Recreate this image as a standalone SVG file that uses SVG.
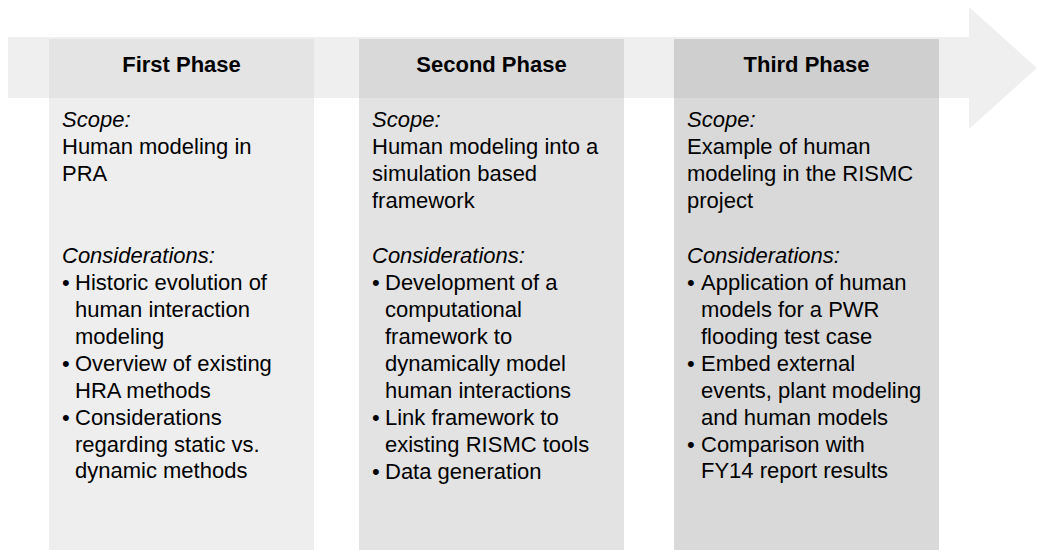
<svg xmlns="http://www.w3.org/2000/svg" width="1037" height="550" viewBox="0 0 1037 550">
<style>
text{font-family:"Liberation Sans",Arial,sans-serif;font-size:22px;fill:#000}
.h{font-weight:bold;text-anchor:middle}
.i{font-style:italic}
</style>
<rect width="1037" height="550" fill="#fff"/>
<g id="arrow">
<polygon points="8,37 969,37 969,7 1037,68 969,129 969,98 8,98" fill="#efefef"/>
</g>
<g id="phase1">
<rect x="49" y="98" width="265" height="452" fill="#eeeeee"/>
<rect x="49" y="39" width="265" height="59" fill="#e4e4e4"/>
<text class="h" x="181.5" y="72">First Phase</text>
<text class="i" x="62" y="127">Scope:</text>
<text x="62" y="154">Human modeling in</text>
<text x="62" y="181">PRA</text>
<text class="i" x="62" y="263">Considerations:</text>
<text x="62" y="290">•</text><text x="75" y="290">Historic evolution of</text>
<text x="75" y="317">human interaction</text>
<text x="75" y="344">modeling</text>
<text x="62" y="371">•</text><text x="75" y="371">Overview of existing</text>
<text x="75" y="398">HRA methods</text>
<text x="62" y="425">•</text><text x="75" y="425">Considerations</text>
<text x="75" y="452">regarding static vs.</text>
<text x="75" y="478">dynamic methods</text>
</g>
<g id="phase2">
<rect x="359" y="98" width="265" height="452" fill="#e3e3e3"/>
<rect x="359" y="39" width="265" height="59" fill="#d9d9d9"/>
<text class="h" x="491.5" y="72">Second Phase</text>
<text class="i" x="372" y="127">Scope:</text>
<text x="372" y="154">Human modeling into a</text>
<text x="372" y="181">simulation based</text>
<text x="372" y="208">framework</text>
<text class="i" x="372" y="263">Considerations:</text>
<text x="372" y="290">•</text><text x="385" y="290">Development of a</text>
<text x="385" y="317">computational</text>
<text x="385" y="344">framework to</text>
<text x="385" y="371">dynamically model</text>
<text x="385" y="398">human interactions</text>
<text x="372" y="425">•</text><text x="385" y="425">Link framework to</text>
<text x="385" y="452">existing RISMC tools</text>
<text x="372" y="479">•</text><text x="385" y="479">Data generation</text>
</g>
<g id="phase3">
<rect x="674" y="98" width="265" height="452" fill="#d9d9d9"/>
<rect x="674" y="39" width="265" height="59" fill="#cfcfcf"/>
<text class="h" x="806.5" y="72">Third Phase</text>
<text class="i" x="687" y="127">Scope:</text>
<text x="687" y="154">Example of human</text>
<text x="687" y="181">modeling in the RISMC</text>
<text x="687" y="208">project</text>
<text class="i" x="687" y="263">Considerations:</text>
<text x="687" y="290">•</text><text x="701" y="290">Application of human</text>
<text x="701" y="317">models for a PWR</text>
<text x="701" y="344">flooding test case</text>
<text x="687" y="371">•</text><text x="701" y="371">Embed external</text>
<text x="701" y="398">events, plant modeling</text>
<text x="701" y="425">and human models</text>
<text x="687" y="452">•</text><text x="701" y="452">Comparison with</text>
<text x="701" y="478">FY14 report results</text>
</g>
<g id="connectors"/>
</svg>
